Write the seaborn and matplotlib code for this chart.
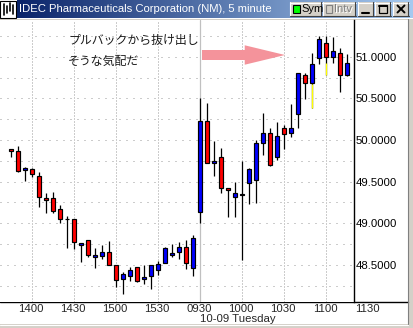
import numpy as np
import pandas as pd
import matplotlib
matplotlib.use("Agg")
import matplotlib.pyplot as plt
import seaborn as sns
from matplotlib.patches import Rectangle
from matplotlib.transforms import blended_transform_factory

# ---------------- data ----------------
bar_index = list(range(49))
opens = [49.89, 49.865, 49.635, 49.65, 49.57, 49.30, 49.30, 49.17, 49.05, 49.05,
         48.735, 48.795, 48.60, 48.605, 48.65, 48.495, 48.33, 48.365, 48.475, 48.33,
         48.365, 48.435, 48.525, 48.625, 48.65, 48.71, 48.46,
         49.14, 50.23, 49.72, 49.79, 49.42, 49.31, 49.345, 49.48, 49.52,
         49.96, 50.08, 49.80, 50.14, 50.09, 50.31, 50.775, 50.68, 50.98,
         51.16, 50.995, 51.04, 50.775]
highs = [49.89, 49.93, 49.67, 49.66, 49.615, 49.365, 49.38, 49.215, 49.09, 49.05,
         48.765, 48.80, 48.70, 48.74, 48.79, 48.50, 48.42, 48.475, 48.48, 48.50,
         48.50, 48.55, 48.71, 48.75, 48.77, 48.795, 48.86,
         50.51, 50.45, 49.99, 49.90, 49.42, 49.495, 49.745, 49.66, 50.00,
         50.32, 50.15, 50.22, 50.18, 50.43, 50.80, 50.80, 51.04, 51.25,
         51.25, 51.24, 51.10, 51.03]
lows = [49.79, 49.615, 49.51, 49.55, 49.19, 49.125, 49.125, 49.005, 48.70, 48.69,
        48.54, 48.60, 48.46, 48.57, 48.50, 48.24, 48.15, 48.305, 48.30, 48.275,
        48.21, 48.38, 48.52, 48.60, 48.575, 48.45, 48.37,
        49.00, 49.72, 49.57, 49.36, 49.08, 49.08, 48.56, 49.23, 49.245,
        49.82, 49.69, 49.76, 49.89, 50.04, 50.15, 50.49, 50.39, 50.91,
        50.78, 50.93, 50.58, 50.77]
closes = [49.865, 49.63, 49.66, 49.59, 49.31, 49.275, 49.15, 49.05, 49.05, 48.78,
          48.76, 48.62, 48.615, 48.65, 48.50, 48.315, 48.395, 48.445, 48.31, 48.355,
          48.495, 48.515, 48.70, 48.645, 48.71, 48.525, 48.82,
          50.23, 49.72, 49.75, 49.42, 49.40, 49.36, 49.355, 49.65, 49.96,
          50.08, 49.695, 50.045, 50.07, 50.14, 50.80, 50.68, 50.91, 51.21,
          50.995, 51.065, 50.775, 50.92]

# wick portions drawn in yellow
yellow_index = [43, 45]
yellow_top = [50.67, 50.92]
yellow_bottom = [50.39, 50.78]

time_tick_index = [3, 9, 15, 21, 27, 33, 39, 45, 51]
time_tick_labels = ["1400", "1430", "1500", "1530", "0930", "1000", "1030", "1100", "1130"]
session_start_index = 27
session_label = "10-09 Tuesday"

price_ticks = [48.5, 49.0, 49.5, 50.0, 50.5, 51.0]
grid_prices = [48.25, 48.5, 48.75, 49.0, 49.25, 49.5, 49.75, 50.0, 50.25, 50.5, 50.75, 51.0, 51.25]

title_text = "IDEC Pharmaceuticals Corporation (NM), 5 minute"
note_line1 = "プルバックから抜け出し"
note_line2 = "そうな気配だ"

# ---------------- style ----------------
sns.set_style("white")
plt.rcParams["font.family"] = ["Liberation Sans", "DejaVu Sans"]
plt.rcParams["lines.scale_dashes"] = False

W, H = 414, 328
fig = plt.figure(figsize=(W / 100, H / 100), dpi=100)
fig.patch.set_facecolor("white")

# overlay (window frame) in pixel coordinates
ov = fig.add_axes([0, 0, 1, 1], zorder=0)
ov.set_xlim(0, W)
ov.set_ylim(H, 0)
ov.axis("off")

# main chart axes: plot area x 0..354 px, y 20..302 px
k_left = (0 - 11) / 7
k_right = (354 - 11) / 7
p_of_y = lambda y: 51 - (y - 56.7) / 83.3
ax = fig.add_axes([0, (H - 302) / H, 354 / W, (302 - 20) / H], zorder=1)
ax.set_facecolor("white")

df = pd.DataFrame({"k": bar_index, "open": opens, "high": highs, "low": lows, "close": closes})
df["bottom"] = df[["open", "close"]].min(axis=1)
df["height"] = (df["close"] - df["open"]).abs()

# grid
for gp in grid_prices:
    ax.axhline(gp, color="#9a9a9a", lw=0.72, linestyle=(0, (0.72, 4.32)), zorder=0.5)
for k in time_tick_index:
    if k == session_start_index:
        ax.axvline(k, color="#c0c0c0", lw=0.9, zorder=0.6)
    elif k < k_right:
        ax.axvline(k, color="#9a9a9a", lw=0.72, linestyle=(0, (0.72, 1.44)), zorder=0.5)

# wicks
ax.vlines(df["k"], df["low"], df["high"], color="black", lw=0.9, zorder=2)
ax.vlines(yellow_index, yellow_bottom, yellow_top, color="#ffff00", lw=0.9, zorder=2.5)

# bodies
for up, color in [(True, "#0000ff"), (False, "#ff0000")]:
    sub = df[(df["close"] >= df["open"]) == up].sort_values("k")
    sns.barplot(data=sub, x="k", y="height", native_scale=True, width=0.62,
                color=color, saturation=1, errorbar=None,
                bottom=sub["bottom"].to_numpy(), edgecolor="black",
                linewidth=0.85, ax=ax, zorder=3)

ax.set_xlim(k_left, k_right)
ax.set_ylim(p_of_y(302), p_of_y(20))
ax.set_xlabel("")
ax.set_ylabel("")
ax.set_xticks([])
ax.yaxis.tick_right()
ax.set_yticks(price_ticks)
ax.set_yticklabels([f"{p:.4f}" for p in price_ticks])
ax.tick_params(axis="y", length=0, pad=1.2, labelsize=8.2, labelcolor="black")
for s in ["left", "top", "bottom"]:
    ax.spines[s].set_visible(False)
ax.spines["right"].set_color("black")
ax.spines["right"].set_linewidth(1.0)

# time labels
bt = blended_transform_factory(ax.transData, ax.transAxes)
for k, lab in zip(time_tick_index, time_tick_labels):
    ax.text(k - 0.15, -(309.5 - 302) / 282, lab, transform=bt, ha="center", va="center",
            fontsize=8.2, clip_on=False)
ax.text(session_start_index - 0.05, -(318.5 - 302) / 282, session_label, transform=bt,
        ha="left", va="center", fontsize=8.2, clip_on=False)

# annotation text and arrow
ax.text((68 - 11) / 7, p_of_y(40.5), note_line1, family=["Noto Sans CJK JP", "DejaVu Sans"],
        fontsize=8.6, color="#1a1a1a", ha="left", va="center")
ax.text((68 - 11) / 7, p_of_y(61), note_line2, family=["Noto Sans CJK JP", "DejaVu Sans"],
        fontsize=8.6, color="#1a1a1a", ha="left", va="center")
ax.annotate("", xy=((285 - 11) / 7, p_of_y(55)), xytext=((202 - 11) / 7, p_of_y(55)),
            arrowprops=dict(arrowstyle="simple,head_length=2.9,head_width=1.4,tail_width=0.72",
                            mutation_scale=10, facecolor="#f4939b", edgecolor="none",
                            lw=0, shrinkA=0, shrinkB=0), zorder=1)

# ---------------- window frame ----------------
ov.plot([0, 408], [302, 302], color="black", lw=1.0)
grad = np.linspace(0, 1, 256)
c0 = np.array([10, 36, 106]) / 255
c1 = np.array([166, 202, 240]) / 255
img = (c0[None, :] * (1 - grad[:, None]) + c1[None, :] * grad[:, None])[None, :, :]
ov.imshow(img, extent=[17, W, 18.5, 0], aspect="auto", interpolation="bilinear", zorder=1)
ov.add_patch(Rectangle((0, 18.5), W, 1.5, facecolor="#d4d0c8", edgecolor="none", zorder=1))
ov.add_patch(Rectangle((0.5, 0.5), 16, 17, facecolor="white", edgecolor="black", lw=0.8, zorder=2))
for xx, y0, y1 in [(4, 4, 15), (7, 6, 13), (10, 3, 11), (13, 5, 14)]:
    ov.plot([xx, xx], [y0, y1], color="black", lw=1.2, zorder=3)
ov.text(19, 9.5, title_text, color="white", fontsize=8.1, ha="left", va="center", zorder=3)


def button(x0, x1, y0=2, y1=16):
    ov.add_patch(Rectangle((x0, y0), x1 - x0, y1 - y0, facecolor="#d4d0c8", edgecolor="none", zorder=2))
    ov.plot([x0, x1], [y0 + 0.5, y0 + 0.5], color="white", lw=0.8, zorder=3)
    ov.plot([x0 + 0.5, x0 + 0.5], [y0, y1], color="white", lw=0.8, zorder=3)
    ov.plot([x0, x1], [y1 - 0.5, y1 - 0.5], color="#404040", lw=0.8, zorder=3)
    ov.plot([x1 - 0.5, x1 - 0.5], [y0, y1], color="#404040", lw=0.8, zorder=3)


button(290, 322)
ov.add_patch(Rectangle((293, 5), 7, 8, facecolor="#00ff00", edgecolor="black", lw=0.8, zorder=4))
ov.text(301, 9.5, "Sym", fontsize=8, color="black", ha="left", va="center", zorder=4)
button(323, 356)
ov.add_patch(Rectangle((326, 5), 6, 8, facecolor="#d4d0c8", edgecolor="#808080", lw=0.8, zorder=4))
ov.text(334.6, 10.1, "Intv", fontsize=8, color="white", ha="left", va="center", zorder=4)
ov.text(334, 9.5, "Intv", fontsize=8, color="#808080", ha="left", va="center", zorder=4)
button(358, 374)
ov.plot([362, 369], [12.5, 12.5], color="black", lw=1.5, zorder=4)
button(375, 391)
ov.add_patch(Rectangle((379, 5), 8, 8, facecolor="none", edgecolor="black", lw=0.9, zorder=4))
ov.plot([379, 387], [5.5, 5.5], color="black", lw=1.4, zorder=4)
button(393, 409)
ov.plot([397.5, 404.5], [5.5, 12.5], color="black", lw=1.4, zorder=4)
ov.plot([397.5, 404.5], [12.5, 5.5], color="black", lw=1.4, zorder=4)
ov.add_patch(Rectangle((408, 18.5), W - 408, H - 18.5, facecolor="#d4d0c8", edgecolor="none", zorder=1))
ov.plot([408.5, 408.5], [19, 324], color="#808080", lw=0.8, zorder=2)
ov.add_patch(Rectangle((0, 324), W, 4, facecolor="#d4d0c8", edgecolor="none", zorder=1))
ov.plot([0, 408.5], [324.5, 324.5], color="#ffffff", lw=0.8, zorder=2)

fig.savefig("out.png", dpi=100)
